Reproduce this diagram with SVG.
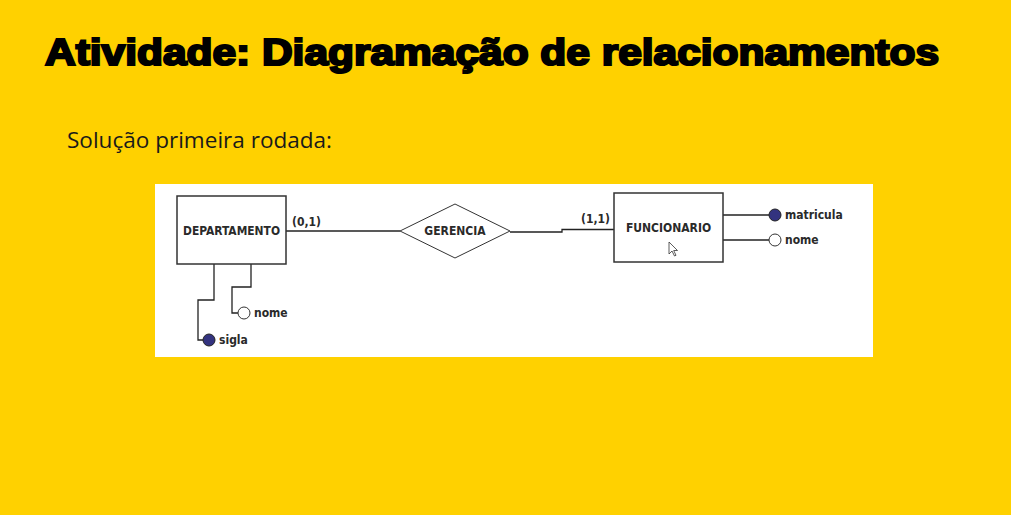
<svg xmlns="http://www.w3.org/2000/svg" width="1011" height="515" viewBox="0 0 1011 515">
<defs>
<style>
.title{font-family:"Liberation Sans",Arial,sans-serif;font-weight:900;font-size:37px;fill:#000;stroke:#000;stroke-width:2.2px}
.sub{font-family:"Open Sans",sans-serif;font-size:21px;fill:#1a1a1a}
.lbl{font-family:"DejaVu Sans Condensed","DejaVu Sans",sans-serif;font-weight:bold;font-size:12px;fill:#2a2a2a}
.box{fill:#fff;stroke:#333;stroke-width:1.5}
.ln{fill:none;stroke:#222;stroke-width:1.3}
.key{fill:#33337f;stroke:#222;stroke-width:1}
.att{fill:#fff;stroke:#333;stroke-width:1}
</style>
</defs>
<rect width="1011" height="515" fill="#FFD100"/>
<text class="title" x="45" y="65" textLength="894" lengthAdjust="spacingAndGlyphs">Atividade: Diagramação de relacionamentos</text>
<text class="sub" x="67" y="148" textLength="265" lengthAdjust="spacingAndGlyphs">Solução primeira rodada:</text>
<rect x="155" y="184" width="718" height="173" fill="#fff"/>
<g id="connectors">
<path class="ln" d="M286 231 H400"/>
<path class="ln" d="M510 232 H562 V229.5 H614"/>
<path class="ln" d="M214 264 V300 H198 V340 H203"/>
<path class="ln" d="M251 264 V287 H232 V313 H238"/>
<path class="ln" d="M723 215 H769"/>
<path class="ln" d="M723 240 H769"/>
<text class="lbl" x="292" y="226">(0,1)</text>
<text class="lbl" x="581" y="223">(1,1)</text>
</g>
<g id="departamento">
<rect class="box" x="177" y="196" width="109" height="68"/>
<text class="lbl" x="231.5" y="235" text-anchor="middle" textLength="97" lengthAdjust="spacingAndGlyphs">DEPARTAMENTO</text>
</g>
<g id="gerencia">
<polygon class="box" points="400,231 455,204 510,231 455,258" style="stroke-width:1"/>
<text class="lbl" x="455" y="235" text-anchor="middle">GERENCIA</text>
</g>
<g id="funcionario">
<rect class="box" x="614" y="193" width="109" height="69"/>
<text class="lbl" x="668.5" y="232" text-anchor="middle">FUNCIONARIO</text>
</g>
<g id="sigla">
<circle class="key" cx="209" cy="340" r="6"/>
<text class="lbl" x="219" y="344">sigla</text>
</g>
<g id="nome-dep">
<circle class="att" cx="244" cy="313" r="6"/>
<text class="lbl" x="254" y="317">nome</text>
</g>
<g id="matricula">
<circle class="key" cx="775" cy="215" r="6"/>
<text class="lbl" x="785" y="219">matricula</text>
</g>
<g id="nome-func">
<circle class="att" cx="775" cy="240" r="6"/>
<text class="lbl" x="785" y="244">nome</text>
</g>
<path d="M669 242 V254 L672 251 L674.5 256 L676 255.3 L673.7 250.5 L677.5 250.5 Z" fill="#fff" stroke="#333" stroke-width="0.8"/>
</svg>
